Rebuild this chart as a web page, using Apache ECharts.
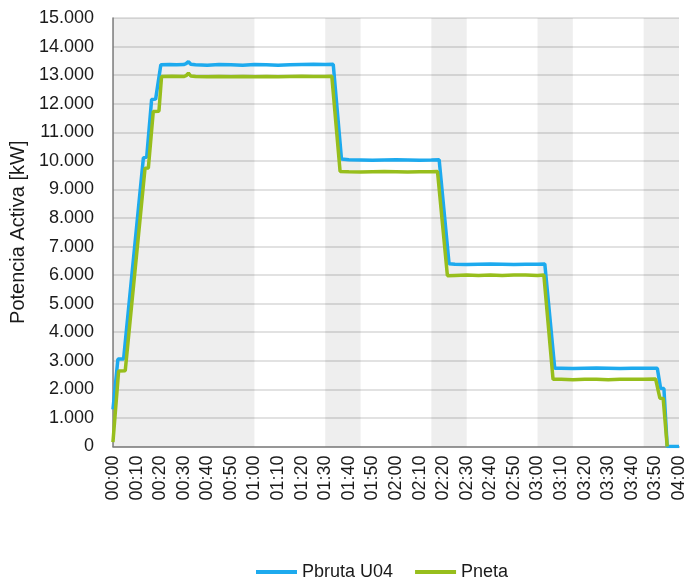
<!DOCTYPE html>
<html>
<head>
<meta charset="utf-8">
<script src="https://cdn.jsdelivr.net/npm/echarts@6/dist/echarts.min.js"></script>
<style>
  html, body { margin: 0; padding: 0; background: #ffffff; }
  #chart { width: 688px; height: 581px; }
</style>
</head>
<body>
<div id="chart"></div>
<script>
// Time in minutes since 00:00, active power in kW
const pbrutaMinutes = [0, 2.1, 4.5, 12.9, 14.3, 16.4, 18.1, 20.3, 24, 27, 30, 31, 32, 33, 35, 40, 45, 50, 55, 60, 65, 70, 75, 80, 85, 90, 93.4, 96.9, 100, 105, 110, 115, 120, 125, 130, 135, 138.3, 142.5, 145, 150, 155, 160, 165, 170, 175, 180, 183.1, 187.3, 190, 195, 200, 205, 210, 215, 220, 225, 230.8, 232.2, 233.6, 235, 240];
const pbrutaValues  = [1300, 3060, 3060, 10100, 10130, 12150, 12160, 13360, 13370, 13360, 13370, 13400, 13470, 13380, 13360, 13350, 13370, 13360, 13350, 13370, 13360, 13350, 13360, 13370, 13380, 13370, 13380, 10060, 10040, 10030, 10020, 10030, 10040, 10030, 10020, 10030, 10040, 6400, 6380, 6370, 6380, 6390, 6380, 6370, 6380, 6380, 6390, 2740, 2740, 2730, 2740, 2750, 2740, 2730, 2740, 2740, 2740, 2040, 2030, 0, 0];

const pnetaMinutes = [0, 2.4, 5.2, 13.6, 15.0, 17.1, 19.5, 20.6, 25, 30, 31, 32, 33, 35, 40, 45, 50, 55, 60, 65, 70, 75, 80, 85, 90, 92.8, 96.3, 100, 105, 110, 115, 120, 125, 130, 135, 137.6, 141.8, 145, 150, 155, 160, 165, 170, 175, 180, 182.7, 186.6, 190, 195, 200, 205, 210, 215, 220, 225, 230.1, 231.9, 233.3, 235];
const pnetaValues  = [150, 2640, 2650, 9740, 9750, 11730, 11740, 12950, 12960, 12950, 12980, 13070, 12970, 12950, 12940, 12950, 12940, 12950, 12940, 12950, 12940, 12950, 12960, 12950, 12950, 12960, 9630, 9620, 9610, 9620, 9630, 9620, 9610, 9620, 9620, 9630, 5980, 5990, 6000, 5990, 6000, 5990, 6000, 6000, 5990, 6000, 2350, 2350, 2340, 2350, 2350, 2340, 2350, 2350, 2350, 2360, 1690, 1680, 0];

// Shaded time windows on the plot background, in minutes
const shadedBands = [[0, 60], [90, 105], [135, 150], [180, 195], [225, 240]];

const seriesNames = ['Pbruta U04', 'Pneta'];
const seriesColors = ['#1DAAEE', '#97BE1C'];

function pairs(xs, ys) { return xs.map((x, i) => [x, ys[i]]); }
function hhmm(m) {
  const h = Math.floor(m / 60), mm = Math.round(m % 60);
  return String(h).padStart(2, '0') + ':' + String(mm).padStart(2, '0');
}
function thousands(v) {
  return String(v).replace(/\B(?=(\d{3})+(?!\d))/g, '.');
}

const FONT = 'Liberation Sans, Arial, sans-serif';
const chart = echarts.init(document.getElementById('chart'), null, { renderer: 'canvas' });

chart.setOption({
  animation: false,
  backgroundColor: '#ffffff',
  textStyle: { fontFamily: FONT },
  grid: { left: 111, right: 6, top: 18, bottom: 134.5, containLabel: false },
  legend: {
    left: 251, top: 558,
    icon: 'rect', itemWidth: 41, itemHeight: 4, itemGap: 22,
    textStyle: { fontFamily: FONT, fontSize: 18, color: '#1a1a1a' },
    data: seriesNames
  },
  xAxis: {
    type: 'value', min: 0, max: 240, interval: 10,
    axisLine: { show: true, lineStyle: { color: '#7f7f7f', width: 1.5 } },
    axisTick: { show: false },
    splitLine: { show: false },
    axisLabel: {
      rotate: 90, margin: 9, fontSize: 18, fontFamily: FONT, color: '#1a1a1a',
      formatter: hhmm
    }
  },
  yAxis: {
    type: 'value', min: 0, max: 15000, interval: 1000,
    name: 'Potencia Activa [kW]', nameLocation: 'middle', nameGap: 79,
    nameTextStyle: { fontSize: 20, fontFamily: FONT, color: '#1a1a1a' },
    axisLine: { show: true, lineStyle: { color: '#7f7f7f', width: 1.5 } },
    axisTick: { show: false },
    splitLine: { show: true, lineStyle: { color: '#d9d9d9', width: 1.5 } },
    axisLabel: { margin: 19, fontSize: 18, fontFamily: FONT, color: '#1a1a1a', formatter: thousands }
  },
  series: [
    {
      name: seriesNames[0], type: 'line', data: pairs(pbrutaMinutes, pbrutaValues),
      showSymbol: false, symbol: 'none',
      lineStyle: { color: seriesColors[0], width: 3.5 }, itemStyle: { color: seriesColors[0] },
      markArea: {
        silent: true,
        itemStyle: { color: 'rgba(0,0,0,0.068)' },
        data: shadedBands.map(b => [{ xAxis: b[0] }, { xAxis: b[1] }])
      }
    },
    {
      name: seriesNames[1], type: 'line', data: pairs(pnetaMinutes, pnetaValues),
      showSymbol: false, symbol: 'none',
      lineStyle: { color: seriesColors[1], width: 3.5 }, itemStyle: { color: seriesColors[1] }
    }
  ]
});
</script>
</body>
</html>
